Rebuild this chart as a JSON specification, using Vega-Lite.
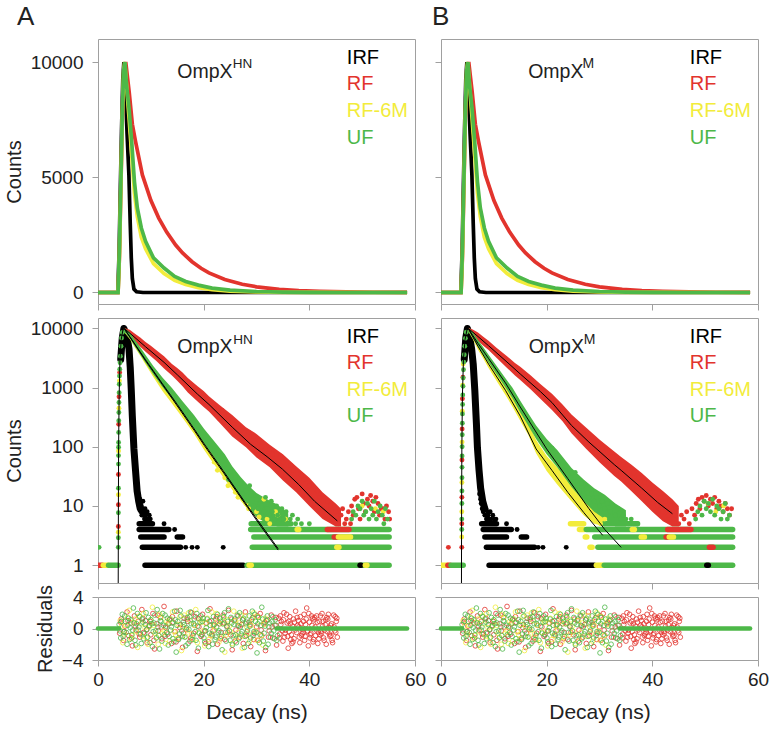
{
"$schema": "https://vega.github.io/schema/vega-lite/v6.json",
"padding": {"left": 3, "top": 3, "right": 2, "bottom": 2},
"config": {
 "font": "Liberation Sans",
 "view": {"stroke": "#a0a0a0", "strokeWidth": 1},
 "axis": {"domain": false, "grid": false, "tickColor": "#a0a0a0", "tickSize": 6, "labelFontSize": 19, "titleFontSize": 20, "labelColor": "#222222", "titleColor": "#222222", "titleFontWeight": "normal", "labelPadding": 9, "titlePadding": 6},
 "text": {"color": "#222222"}
},
"datasets": {
 "top": [
  {"s":"IRF","t":0,"v":0},{"s":"IRF","t":3.75,"v":0},{"s":"IRF","t":4.0,"v":1800},{"s":"IRF","t":4.2,"v":4200},{"s":"IRF","t":4.45,"v":7000},{"s":"IRF","t":4.7,"v":9300},{"s":"IRF","t":4.9,"v":10000},{"s":"IRF","t":5.2,"v":8800},{"s":"IRF","t":5.5,"v":6900},{"s":"IRF","t":5.85,"v":5100},{"s":"IRF","t":6.1,"v":3000},{"s":"IRF","t":6.3,"v":1500},{"s":"IRF","t":6.5,"v":600},{"s":"IRF","t":6.8,"v":150},{"s":"IRF","t":7.3,"v":30},{"s":"IRF","t":8.5,"v":0},{"s":"IRF","t":58.5,"v":0},
  {"s":"RF","t":0,"v":0},{"s":"RF","t":3.8,"v":0},{"s":"RF","t":4.05,"v":1500},{"s":"RF","t":4.3,"v":4200},{"s":"RF","t":4.6,"v":7500},{"s":"RF","t":4.9,"v":9500},{"s":"RF","t":5.25,"v":10000},{"s":"RF","t":5.6,"v":9300},{"s":"RF","t":5.9,"v":8700},{"s":"RF","t":6.5,"v":7300},{"s":"RF","t":7.1,"v":6560},{"s":"RF","t":8.4,"v":5100},{"s":"RF","t":10,"v":4000},{"s":"RF","t":11.5,"v":3230},{"s":"RF","t":13,"v":2620},{"s":"RF","t":14.7,"v":2060},{"s":"RF","t":16,"v":1715},{"s":"RF","t":17.8,"v":1335},{"s":"RF","t":19.5,"v":1050},{"s":"RF","t":21,"v":850},{"s":"RF","t":24,"v":560},{"s":"RF","t":27.3,"v":355},{"s":"RF","t":30,"v":245},{"s":"RF","t":34.3,"v":135},{"s":"RF","t":38,"v":80},{"s":"RF","t":42,"v":45},{"s":"RF","t":47,"v":22},{"s":"RF","t":52,"v":10},{"s":"RF","t":58.5,"v":3},
  {"s":"RF-6M","t":0,"v":0},{"s":"RF-6M","t":3.8,"v":0},{"s":"RF-6M","t":4.05,"v":1600},{"s":"RF-6M","t":4.3,"v":4400},{"s":"RF-6M","t":4.6,"v":7700},{"s":"RF-6M","t":4.85,"v":9600},{"s":"RF-6M","t":5.05,"v":10000},{"s":"RF-6M","t":5.5,"v":8700},{"s":"RF-6M","t":5.87,"v":7600},{"s":"RF-6M","t":6.37,"v":6000},{"s":"RF-6M","t":6.9,"v":4300},{"s":"RF-6M","t":7.44,"v":3300},{"s":"RF-6M","t":8.2,"v":2400},{"s":"RF-6M","t":9.0,"v":1900},{"s":"RF-6M","t":10.5,"v":1250},{"s":"RF-6M","t":12.5,"v":820},{"s":"RF-6M","t":14.5,"v":530},{"s":"RF-6M","t":16.6,"v":350},{"s":"RF-6M","t":19,"v":210},{"s":"RF-6M","t":21.6,"v":120},{"s":"RF-6M","t":25,"v":60},{"s":"RF-6M","t":30,"v":22},{"s":"RF-6M","t":35,"v":7},{"s":"RF-6M","t":40,"v":1},{"s":"RF-6M","t":58.5,"v":0},
  {"s":"UF","t":0,"v":0},{"s":"UF","t":3.8,"v":0},{"s":"UF","t":4.05,"v":1800},{"s":"UF","t":4.3,"v":4500},{"s":"UF","t":4.6,"v":7800},{"s":"UF","t":4.85,"v":9600},{"s":"UF","t":5.1,"v":10000},{"s":"UF","t":5.4,"v":9000},{"s":"UF","t":5.87,"v":8000},{"s":"UF","t":6.37,"v":6565},{"s":"UF","t":6.9,"v":4800},{"s":"UF","t":7.44,"v":3670},{"s":"UF","t":8.2,"v":2800},{"s":"UF","t":9.0,"v":2220},{"s":"UF","t":10.5,"v":1500},{"s":"UF","t":12.5,"v":1060},{"s":"UF","t":14.5,"v":700},{"s":"UF","t":16.6,"v":480},{"s":"UF","t":19,"v":320},{"s":"UF","t":21.6,"v":190},{"s":"UF","t":25,"v":100},{"s":"UF","t":30,"v":42},{"s":"UF","t":35,"v":16},{"s":"UF","t":40,"v":5},{"s":"UF","t":45,"v":0},{"s":"UF","t":58.5,"v":0}
 ],
 "band": [
  {"p":"A","s":"IRF","t":4.3,"v":3000},{"p":"A","s":"IRF","t":4.6,"v":7000},{"p":"A","s":"IRF","t":4.9,"v":10000},{"p":"A","s":"IRF","t":5.3,"v":8000},{"p":"A","s":"IRF","t":5.6,"v":6300},{"p":"A","s":"IRF","t":5.87,"v":4500},{"p":"A","s":"IRF","t":6.1,"v":2200},{"p":"A","s":"IRF","t":6.3,"v":900},{"p":"A","s":"IRF","t":6.49,"v":340},{"p":"A","s":"IRF","t":6.8,"v":92},{"p":"A","s":"IRF","t":7.1,"v":40},{"p":"A","s":"IRF","t":7.4,"v":18},{"p":"A","s":"IRF","t":7.7,"v":12},{"p":"A","s":"IRF","t":8.0,"v":9},
  {"p":"B","s":"IRF","t":4.4,"v":3000},{"p":"B","s":"IRF","t":4.7,"v":7000},{"p":"B","s":"IRF","t":5.0,"v":10000},{"p":"B","s":"IRF","t":5.4,"v":7500},{"p":"B","s":"IRF","t":5.8,"v":4500},{"p":"B","s":"IRF","t":6.1,"v":2500},{"p":"B","s":"IRF","t":6.4,"v":900},{"p":"B","s":"IRF","t":6.7,"v":250},{"p":"B","s":"IRF","t":6.9,"v":95},{"p":"B","s":"IRF","t":7.2,"v":40},{"p":"B","s":"IRF","t":7.5,"v":20},{"p":"B","s":"IRF","t":7.9,"v":12},{"p":"B","s":"IRF","t":8.3,"v":9}
 ],
 "rib": [
  {"p":"A","s":"RF","t":4.9,"v":9300,"hi":10300},{"p":"A","s":"RF","t":6,"v":7400,"hi":9500},{"p":"A","s":"RF","t":7,"v":6000,"hi":8100},{"p":"A","s":"RF","t":8,"v":4900,"hi":7000},{"p":"A","s":"RF","t":9,"v":4050,"hi":5900},{"p":"A","s":"RF","t":10,"v":3400,"hi":5100},{"p":"A","s":"RF","t":11,"v":2850,"hi":4300},{"p":"A","s":"RF","t":12.5,"v":2100,"hi":3400},{"p":"A","s":"RF","t":14,"v":1600,"hi":2500},{"p":"A","s":"RF","t":15,"v":1300,"hi":2150},{"p":"A","s":"RF","t":16,"v":1050,"hi":1800},{"p":"A","s":"RF","t":17,"v":830,"hi":1450},{"p":"A","s":"RF","t":18.8,"v":590,"hi":1060},{"p":"A","s":"RF","t":20,"v":470,"hi":880},{"p":"A","s":"RF","t":21,"v":395,"hi":715},{"p":"A","s":"RF","t":23,"v":255,"hi":510},{"p":"A","s":"RF","t":25.4,"v":150,"hi":345},{"p":"A","s":"RF","t":28,"v":98,"hi":215},{"p":"A","s":"RF","t":30,"v":66,"hi":165},{"p":"A","s":"RF","t":32.5,"v":45,"hi":108},{"p":"A","s":"RF","t":35,"v":27,"hi":75},{"p":"A","s":"RF","t":37.5,"v":17,"hi":47},{"p":"A","s":"RF","t":40,"v":10,"hi":30},{"p":"A","s":"RF","t":42.5,"v":6,"hi":17},{"p":"A","s":"RF","t":45,"v":4.5,"hi":11},{"p":"A","s":"RF","t":46,"v":4.5,"hi":9},
  {"p":"A","s":"RF-6M","t":4.9,"v":8700,"hi":10200},{"p":"A","s":"RF-6M","t":6,"v":6600,"hi":8400},{"p":"A","s":"RF-6M","t":7,"v":4700,"hi":6000},{"p":"A","s":"RF-6M","t":8,"v":3450,"hi":4500},{"p":"A","s":"RF-6M","t":9,"v":2450,"hi":3250},{"p":"A","s":"RF-6M","t":10.5,"v":1500,"hi":2050},{"p":"A","s":"RF-6M","t":12.2,"v":880,"hi":1230},{"p":"A","s":"RF-6M","t":14,"v":540,"hi":780},{"p":"A","s":"RF-6M","t":16,"v":310,"hi":460},{"p":"A","s":"RF-6M","t":18.2,"v":165,"hi":260},{"p":"A","s":"RF-6M","t":20.1,"v":88,"hi":148},{"p":"A","s":"RF-6M","t":22,"v":50,"hi":88},{"p":"A","s":"RF-6M","t":24,"v":28,"hi":52},{"p":"A","s":"RF-6M","t":26,"v":16,"hi":31},{"p":"A","s":"RF-6M","t":28,"v":9.5,"hi":19},{"p":"A","s":"RF-6M","t":30,"v":6.5,"hi":13},{"p":"A","s":"RF-6M","t":32,"v":5,"hi":9},
  {"p":"A","s":"UF","t":4.9,"v":8900,"hi":10300},{"p":"A","s":"UF","t":6,"v":6800,"hi":8600},{"p":"A","s":"UF","t":7,"v":4900,"hi":6350},{"p":"A","s":"UF","t":8,"v":3600,"hi":4800},{"p":"A","s":"UF","t":9,"v":2620,"hi":3560},{"p":"A","s":"UF","t":10.5,"v":1650,"hi":2300},{"p":"A","s":"UF","t":12.2,"v":1020,"hi":1480},{"p":"A","s":"UF","t":14,"v":650,"hi":985},{"p":"A","s":"UF","t":16,"v":375,"hi":590},{"p":"A","s":"UF","t":18.2,"v":200,"hi":340},{"p":"A","s":"UF","t":20.1,"v":113,"hi":200},{"p":"A","s":"UF","t":22,"v":66,"hi":124},{"p":"A","s":"UF","t":24,"v":37,"hi":75},{"p":"A","s":"UF","t":25.4,"v":22,"hi":47},{"p":"A","s":"UF","t":27,"v":13.5,"hi":31},{"p":"A","s":"UF","t":28.5,"v":9,"hi":22},{"p":"A","s":"UF","t":30,"v":6.6,"hi":16.6},{"p":"A","s":"UF","t":32,"v":5,"hi":13},{"p":"A","s":"UF","t":34,"v":4.5,"hi":10.5},{"p":"A","s":"UF","t":36,"v":4.5,"hi":7.5},
  {"p":"B","s":"RF","t":5.2,"v":8900,"hi":10300},{"p":"B","s":"RF","t":6,"v":7700,"hi":9600},{"p":"B","s":"RF","t":7,"v":6200,"hi":8500},{"p":"B","s":"RF","t":8,"v":5100,"hi":7200},{"p":"B","s":"RF","t":9,"v":4300,"hi":6200},{"p":"B","s":"RF","t":10.5,"v":3200,"hi":4700},{"p":"B","s":"RF","t":12.5,"v":2150,"hi":3400},{"p":"B","s":"RF","t":14,"v":1600,"hi":2600},{"p":"B","s":"RF","t":15,"v":1350,"hi":2250},{"p":"B","s":"RF","t":17,"v":930,"hi":1600},{"p":"B","s":"RF","t":18.8,"v":650,"hi":1150},{"p":"B","s":"RF","t":21,"v":420,"hi":790},{"p":"B","s":"RF","t":23,"v":270,"hi":520},{"p":"B","s":"RF","t":24.7,"v":170,"hi":350},{"p":"B","s":"RF","t":27.5,"v":92,"hi":210},{"p":"B","s":"RF","t":30.1,"v":54,"hi":130},{"p":"B","s":"RF","t":32.8,"v":32,"hi":83},{"p":"B","s":"RF","t":34.1,"v":26,"hi":67},{"p":"B","s":"RF","t":36,"v":18,"hi":50},{"p":"B","s":"RF","t":38,"v":12,"hi":36},{"p":"B","s":"RF","t":40,"v":8,"hi":25},{"p":"B","s":"RF","t":42,"v":5.5,"hi":18},{"p":"B","s":"RF","t":43.8,"v":4.5,"hi":13},{"p":"B","s":"RF","t":45,"v":4.5,"hi":10},
  {"p":"B","s":"RF-6M","t":5.2,"v":8800,"hi":10200},{"p":"B","s":"RF-6M","t":6,"v":6600,"hi":8300},{"p":"B","s":"RF-6M","t":7,"v":4350,"hi":5750},{"p":"B","s":"RF-6M","t":8,"v":3100,"hi":4200},{"p":"B","s":"RF-6M","t":9,"v":2150,"hi":2900},{"p":"B","s":"RF-6M","t":10.5,"v":1300,"hi":1800},{"p":"B","s":"RF-6M","t":12.2,"v":750,"hi":1080},{"p":"B","s":"RF-6M","t":13.5,"v":480,"hi":720},{"p":"B","s":"RF-6M","t":15,"v":275,"hi":420},{"p":"B","s":"RF-6M","t":16.5,"v":160,"hi":255},{"p":"B","s":"RF-6M","t":18,"v":78,"hi":130},{"p":"B","s":"RF-6M","t":20,"v":39,"hi":70},{"p":"B","s":"RF-6M","t":22,"v":23,"hi":45},{"p":"B","s":"RF-6M","t":24.7,"v":12,"hi":27},{"p":"B","s":"RF-6M","t":27,"v":7,"hi":17},{"p":"B","s":"RF-6M","t":29,"v":5,"hi":12.5},{"p":"B","s":"RF-6M","t":31,"v":4.5,"hi":8.5},
  {"p":"B","s":"UF","t":5.2,"v":8900,"hi":10300},{"p":"B","s":"UF","t":6,"v":6900,"hi":8700},{"p":"B","s":"UF","t":7,"v":4900,"hi":6350},{"p":"B","s":"UF","t":8,"v":3600,"hi":4800},{"p":"B","s":"UF","t":9,"v":2650,"hi":3600},{"p":"B","s":"UF","t":10.5,"v":1700,"hi":2350},{"p":"B","s":"UF","t":12.2,"v":1000,"hi":1440},{"p":"B","s":"UF","t":13.5,"v":670,"hi":1000},{"p":"B","s":"UF","t":15,"v":380,"hi":600},{"p":"B","s":"UF","t":16.5,"v":230,"hi":370},{"p":"B","s":"UF","t":18,"v":135,"hi":230},{"p":"B","s":"UF","t":20,"v":75,"hi":135},{"p":"B","s":"UF","t":22,"v":45,"hi":88},{"p":"B","s":"UF","t":24.7,"v":21,"hi":44},{"p":"B","s":"UF","t":27,"v":12,"hi":28},{"p":"B","s":"UF","t":29,"v":8,"hi":20},{"p":"B","s":"UF","t":31,"v":6,"hi":15.5},{"p":"B","s":"UF","t":33,"v":4.5,"hi":11},{"p":"B","s":"UF","t":35,"v":4.5,"hi":8.5}
 ],
 "fit": [
  {"p":"A","s":"RF","t":3.82,"v":0.3},{"p":"A","s":"RF","t":3.86,"v":10},{"p":"A","s":"RF","t":3.9,"v":100},{"p":"A","s":"RF","t":4.0,"v":700},{"p":"A","s":"RF","t":4.16,"v":3000},{"p":"A","s":"RF","t":4.4,"v":6500},{"p":"A","s":"RF","t":4.75,"v":9800},{"p":"A","s":"RF","t":4.95,"v":10000},{"p":"A","s":"RF","t":7,"v":7000},{"p":"A","s":"RF","t":9,"v":4900},{"p":"A","s":"RF","t":12.5,"v":2670},{"p":"A","s":"RF","t":15,"v":1650},{"p":"A","s":"RF","t":18.8,"v":780},{"p":"A","s":"RF","t":21,"v":520},{"p":"A","s":"RF","t":25.4,"v":215},{"p":"A","s":"RF","t":28.9,"v":110},{"p":"A","s":"RF","t":32,"v":68},{"p":"A","s":"RF","t":34.9,"v":42},{"p":"A","s":"RF","t":38,"v":23},{"p":"A","s":"RF","t":41,"v":12},{"p":"A","s":"RF","t":45.3,"v":5.6},
  {"p":"A","s":"RF-6M","t":4.95,"v":10000},{"p":"A","s":"RF-6M","t":7,"v":5300},{"p":"A","s":"RF-6M","t":9,"v":2850},{"p":"A","s":"RF-6M","t":12.2,"v":1120},{"p":"A","s":"RF-6M","t":15,"v":490},{"p":"A","s":"RF-6M","t":18.2,"v":190},{"p":"A","s":"RF-6M","t":20.1,"v":106},{"p":"A","s":"RF-6M","t":24,"v":34},{"p":"A","s":"RF-6M","t":28.3,"v":9.5},{"p":"A","s":"RF-6M","t":31,"v":4.3},{"p":"A","s":"RF-6M","t":34.1,"v":1.8},
  {"p":"A","s":"UF","t":4.95,"v":10000},{"p":"A","s":"UF","t":7,"v":5400},{"p":"A","s":"UF","t":9,"v":2950},{"p":"A","s":"UF","t":12.2,"v":1160},{"p":"A","s":"UF","t":15,"v":520},{"p":"A","s":"UF","t":18.2,"v":200},{"p":"A","s":"UF","t":20.1,"v":112},{"p":"A","s":"UF","t":24,"v":36},{"p":"A","s":"UF","t":28.3,"v":10},{"p":"A","s":"UF","t":31,"v":4.6},{"p":"A","s":"UF","t":34.1,"v":1.9},
  {"p":"B","s":"RF","t":3.87,"v":0.3},{"p":"B","s":"RF","t":3.9,"v":10},{"p":"B","s":"RF","t":3.95,"v":100},{"p":"B","s":"RF","t":4.05,"v":700},{"p":"B","s":"RF","t":4.25,"v":3000},{"p":"B","s":"RF","t":4.55,"v":6500},{"p":"B","s":"RF","t":4.95,"v":9800},{"p":"B","s":"RF","t":5.15,"v":10000},{"p":"B","s":"RF","t":7,"v":7300},{"p":"B","s":"RF","t":9,"v":5100},{"p":"B","s":"RF","t":12.5,"v":2700},{"p":"B","s":"RF","t":15,"v":1700},{"p":"B","s":"RF","t":18.8,"v":860},{"p":"B","s":"RF","t":21,"v":560},{"p":"B","s":"RF","t":24.7,"v":230},{"p":"B","s":"RF","t":28,"v":120},{"p":"B","s":"RF","t":30.1,"v":82},{"p":"B","s":"RF","t":32.8,"v":50},{"p":"B","s":"RF","t":34.1,"v":40},{"p":"B","s":"RF","t":38,"v":20},{"p":"B","s":"RF","t":41,"v":11.5},{"p":"B","s":"RF","t":43.8,"v":7.4},
  {"p":"B","s":"RF-6M","t":5.15,"v":10000},{"p":"B","s":"RF-6M","t":7,"v":5000},{"p":"B","s":"RF-6M","t":9,"v":2500},{"p":"B","s":"RF-6M","t":12.2,"v":900},{"p":"B","s":"RF-6M","t":15,"v":330},{"p":"B","s":"RF-6M","t":18,"v":92},{"p":"B","s":"RF-6M","t":21,"v":40},{"p":"B","s":"RF-6M","t":24,"v":17},{"p":"B","s":"RF-6M","t":27,"v":7.8},{"p":"B","s":"RF-6M","t":30.6,"v":3.2},
  {"p":"B","s":"UF","t":5.15,"v":10000},{"p":"B","s":"UF","t":7,"v":5600},{"p":"B","s":"UF","t":9,"v":3100},{"p":"B","s":"UF","t":12.2,"v":1200},{"p":"B","s":"UF","t":15,"v":470},{"p":"B","s":"UF","t":20,"v":92},{"p":"B","s":"UF","t":24,"v":29},{"p":"B","s":"UF","t":28,"v":9},{"p":"B","s":"UF","t":31,"v":4},{"p":"B","s":"UF","t":34.1,"v":2.0}
 ],
 "pts": [
  {"p":"A","s":"IRF","t":7.5,"v":16},{"p":"A","s":"IRF","t":7.7,"v":14},{"p":"A","s":"IRF","t":7.8,"v":10},{"p":"A","s":"IRF","t":7.9,"v":13},{"p":"A","s":"IRF","t":8.0,"v":11},{"p":"A","s":"IRF","t":8.1,"v":8},{"p":"A","s":"IRF","t":8.2,"v":10},{"p":"A","s":"IRF","t":8.3,"v":7},{"p":"A","s":"IRF","t":8.4,"v":9},{"p":"A","s":"IRF","t":8.5,"v":12},{"p":"A","s":"IRF","t":8.6,"v":7},{"p":"A","s":"IRF","t":8.7,"v":8},{"p":"A","s":"IRF","t":8.8,"v":6},{"p":"A","s":"IRF","t":8.9,"v":9},{"p":"A","s":"IRF","t":9.0,"v":7},{"p":"A","s":"IRF","t":9.2,"v":6},{"p":"A","s":"IRF","t":9.3,"v":8},{"p":"A","s":"IRF","t":9.5,"v":6},{"p":"A","s":"IRF","t":9.7,"v":7},{"p":"A","s":"IRF","t":9.9,"v":6},{"p":"A","s":"IRF","t":12.5,"v":5},{"p":"A","s":"IRF","t":14.5,"v":4},{"p":"A","s":"IRF","t":16.6,"v":2},{"p":"A","s":"IRF","t":17.8,"v":2},{"p":"A","s":"IRF","t":18.8,"v":2},{"p":"A","s":"IRF","t":23.7,"v":2},
  {"p":"A","s":"RF","t":3.85,"v":4.5},{"p":"A","s":"RF","t":3.86,"v":10.5},{"p":"A","s":"RF","t":3.87,"v":34},{"p":"A","s":"RF","t":3.92,"v":240},{"p":"A","s":"RF","t":3.98,"v":700},{"p":"A","s":"RF","t":4.1,"v":1800},
  {"p":"A","s":"RF","t":22,"v":440},{"p":"A","s":"RF","t":22.5,"v":380},{"p":"A","s":"RF","t":23,"v":300},{"p":"A","s":"RF","t":23.5,"v":410},{"p":"A","s":"RF","t":24,"v":260},{"p":"A","s":"RF","t":24.5,"v":330},{"p":"A","s":"RF","t":25,"v":200},{"p":"A","s":"RF","t":25.5,"v":280},{"p":"A","s":"RF","t":26,"v":170},{"p":"A","s":"RF","t":26.5,"v":240},{"p":"A","s":"RF","t":27,"v":190},{"p":"A","s":"RF","t":27.5,"v":140},{"p":"A","s":"RF","t":28,"v":120},{"p":"A","s":"RF","t":28.5,"v":175},{"p":"A","s":"RF","t":29,"v":110},{"p":"A","s":"RF","t":29.5,"v":150},{"p":"A","s":"RF","t":30,"v":85},{"p":"A","s":"RF","t":30.5,"v":125},{"p":"A","s":"RF","t":31,"v":100},{"p":"A","s":"RF","t":31.5,"v":70},{"p":"A","s":"RF","t":32,"v":60},{"p":"A","s":"RF","t":32.5,"v":90},{"p":"A","s":"RF","t":33,"v":75},{"p":"A","s":"RF","t":33.5,"v":52},{"p":"A","s":"RF","t":34,"v":45},{"p":"A","s":"RF","t":34.5,"v":70},{"p":"A","s":"RF","t":35,"v":55},{"p":"A","s":"RF","t":35.5,"v":35},{"p":"A","s":"RF","t":36,"v":30},{"p":"A","s":"RF","t":36.5,"v":48},{"p":"A","s":"RF","t":37,"v":40},{"p":"A","s":"RF","t":37.5,"v":25},{"p":"A","s":"RF","t":38,"v":20},{"p":"A","s":"RF","t":38.5,"v":33},{"p":"A","s":"RF","t":39,"v":28},{"p":"A","s":"RF","t":39.5,"v":15},{"p":"A","s":"RF","t":40,"v":22},{"p":"A","s":"RF","t":40.5,"v":13},{"p":"A","s":"RF","t":41,"v":11},{"p":"A","s":"RF","t":41.5,"v":18},{"p":"A","s":"RF","t":42,"v":14},{"p":"A","s":"RF","t":42.5,"v":9},{"p":"A","s":"RF","t":43,"v":7},{"p":"A","s":"RF","t":43.5,"v":12},{"p":"A","s":"RF","t":44,"v":10},{"p":"A","s":"RF","t":44.5,"v":6},{"p":"A","s":"RF","t":45,"v":8},{"p":"A","s":"RF","t":45.5,"v":5},{"p":"A","s":"RF","t":46,"v":7},{"p":"A","s":"RF","t":46.3,"v":9},{"p":"A","s":"RF","t":46.7,"v":5},{"p":"A","s":"RF","t":47,"v":6},{"p":"A","s":"RF","t":47.4,"v":8},{"p":"A","s":"RF","t":47.8,"v":5},{"p":"A","s":"RF","t":48,"v":10},{"p":"A","s":"RF","t":48.3,"v":7},{"p":"A","s":"RF","t":48.6,"v":13},{"p":"A","s":"RF","t":49,"v":14},{"p":"A","s":"RF","t":49.3,"v":9},{"p":"A","s":"RF","t":49.6,"v":6},{"p":"A","s":"RF","t":50,"v":16},{"p":"A","s":"RF","t":50.3,"v":11},{"p":"A","s":"RF","t":50.6,"v":8},{"p":"A","s":"RF","t":51,"v":13},{"p":"A","s":"RF","t":51.3,"v":10},{"p":"A","s":"RF","t":51.6,"v":15},{"p":"A","s":"RF","t":52,"v":12},{"p":"A","s":"RF","t":52.3,"v":8},{"p":"A","s":"RF","t":52.6,"v":14},{"p":"A","s":"RF","t":53,"v":11},{"p":"A","s":"RF","t":53.3,"v":7},{"p":"A","s":"RF","t":53.6,"v":9},{"p":"A","s":"RF","t":54,"v":9},{"p":"A","s":"RF","t":54.3,"v":6},{"p":"A","s":"RF","t":54.6,"v":10},{"p":"A","s":"RF","t":55,"v":8},{"p":"A","s":"RF","t":55.2,"v":6},
  {"p":"A","s":"RF-6M","t":3.85,"v":3.6},{"p":"A","s":"RF-6M","t":3.87,"v":15.5},{"p":"A","s":"RF-6M","t":3.89,"v":85},{"p":"A","s":"RF-6M","t":3.96,"v":450},{"p":"A","s":"RF-6M","t":4.05,"v":1300},
  {"p":"A","s":"RF-6M","t":22,"v":55},{"p":"A","s":"RF-6M","t":22.6,"v":40},{"p":"A","s":"RF-6M","t":24,"v":30},{"p":"A","s":"RF-6M","t":24.6,"v":22},{"p":"A","s":"RF-6M","t":26,"v":17},{"p":"A","s":"RF-6M","t":26.5,"v":14},{"p":"A","s":"RF-6M","t":28,"v":11},{"p":"A","s":"RF-6M","t":28.5,"v":9},{"p":"A","s":"RF-6M","t":30,"v":8},{"p":"A","s":"RF-6M","t":30.5,"v":6.5},{"p":"A","s":"RF-6M","t":31.4,"v":13},{"p":"A","s":"RF-6M","t":32,"v":6},{"p":"A","s":"RF-6M","t":32.5,"v":5},{"p":"A","s":"RF-6M","t":33.6,"v":8},{"p":"A","s":"RF-6M","t":34,"v":7},{"p":"A","s":"RF-6M","t":35.5,"v":6},{"p":"A","s":"RF-6M","t":50,"v":10},{"p":"A","s":"RF-6M","t":52.5,"v":9},{"p":"A","s":"RF-6M","t":54,"v":8},
  {"p":"A","s":"UF","t":0.2,"v":2},{"p":"A","s":"UF","t":3.84,"v":2},{"p":"A","s":"UF","t":3.85,"v":2.9},{"p":"A","s":"UF","t":3.86,"v":7.7},{"p":"A","s":"UF","t":3.87,"v":20},{"p":"A","s":"UF","t":3.88,"v":51},{"p":"A","s":"UF","t":3.88,"v":71},{"p":"A","s":"UF","t":3.89,"v":98},{"p":"A","s":"UF","t":3.9,"v":118},{"p":"A","s":"UF","t":3.91,"v":175},{"p":"A","s":"UF","t":3.93,"v":275},{"p":"A","s":"UF","t":3.95,"v":380},{"p":"A","s":"UF","t":3.97,"v":560},{"p":"A","s":"UF","t":4.0,"v":820},{"p":"A","s":"UF","t":4.03,"v":1140},{"p":"A","s":"UF","t":4.07,"v":1570},{"p":"A","s":"UF","t":4.12,"v":2040},{"p":"A","s":"UF","t":4.18,"v":2630},{"p":"A","s":"UF","t":4.25,"v":3400},{"p":"A","s":"UF","t":4.35,"v":5000},{"p":"A","s":"UF","t":4.45,"v":6880},{"p":"A","s":"UF","t":4.6,"v":8570},
  {"p":"A","s":"UF","t":22,"v":85},{"p":"A","s":"UF","t":22.5,"v":60},{"p":"A","s":"UF","t":23,"v":70},{"p":"A","s":"UF","t":23.5,"v":45},{"p":"A","s":"UF","t":24,"v":50},{"p":"A","s":"UF","t":24.3,"v":35},{"p":"A","s":"UF","t":24.7,"v":28},{"p":"A","s":"UF","t":25,"v":38},{"p":"A","s":"UF","t":25.5,"v":25},{"p":"A","s":"UF","t":26,"v":30},{"p":"A","s":"UF","t":26.5,"v":20},{"p":"A","s":"UF","t":27,"v":24},{"p":"A","s":"UF","t":27.3,"v":16},{"p":"A","s":"UF","t":28,"v":18},{"p":"A","s":"UF","t":28.3,"v":12},{"p":"A","s":"UF","t":28.7,"v":22},{"p":"A","s":"UF","t":29,"v":15},{"p":"A","s":"UF","t":29.5,"v":10},{"p":"A","s":"UF","t":30,"v":13},{"p":"A","s":"UF","t":30.3,"v":9},{"p":"A","s":"UF","t":30.7,"v":11},{"p":"A","s":"UF","t":31,"v":10},{"p":"A","s":"UF","t":31.4,"v":8},{"p":"A","s":"UF","t":31.7,"v":14},{"p":"A","s":"UF","t":32,"v":9},{"p":"A","s":"UF","t":32.4,"v":7},{"p":"A","s":"UF","t":32.8,"v":12},{"p":"A","s":"UF","t":33,"v":8},{"p":"A","s":"UF","t":33.5,"v":6},{"p":"A","s":"UF","t":33.8,"v":10},{"p":"A","s":"UF","t":34,"v":7},{"p":"A","s":"UF","t":34.5,"v":6},{"p":"A","s":"UF","t":34.8,"v":9},{"p":"A","s":"UF","t":35.2,"v":6},{"p":"A","s":"UF","t":35.6,"v":8},{"p":"A","s":"UF","t":36,"v":5},{"p":"A","s":"UF","t":36.4,"v":6},{"p":"A","s":"UF","t":36.8,"v":7},{"p":"A","s":"UF","t":37.4,"v":5},{"p":"A","s":"UF","t":37.8,"v":6},{"p":"A","s":"UF","t":38.5,"v":5},{"p":"A","s":"UF","t":40,"v":5},{"p":"A","s":"UF","t":48,"v":6},{"p":"A","s":"UF","t":48.3,"v":8},{"p":"A","s":"UF","t":48.8,"v":7},{"p":"A","s":"UF","t":49.2,"v":10},{"p":"A","s":"UF","t":49.6,"v":9},{"p":"A","s":"UF","t":50,"v":12},{"p":"A","s":"UF","t":50.3,"v":7},{"p":"A","s":"UF","t":50.7,"v":8},{"p":"A","s":"UF","t":51,"v":11},{"p":"A","s":"UF","t":51.3,"v":6},{"p":"A","s":"UF","t":51.7,"v":9},{"p":"A","s":"UF","t":52,"v":7},{"p":"A","s":"UF","t":52.3,"v":12},{"p":"A","s":"UF","t":52.7,"v":6},{"p":"A","s":"UF","t":53,"v":8},{"p":"A","s":"UF","t":53.4,"v":10},{"p":"A","s":"UF","t":53.8,"v":7},{"p":"A","s":"UF","t":54.1,"v":5},{"p":"A","s":"UF","t":54.4,"v":9},{"p":"A","s":"UF","t":54.8,"v":6},
  {"p":"B","s":"IRF","t":7.3,"v":16},{"p":"B","s":"IRF","t":7.5,"v":13},{"p":"B","s":"IRF","t":7.6,"v":11},{"p":"B","s":"IRF","t":7.8,"v":9},{"p":"B","s":"IRF","t":7.9,"v":12},{"p":"B","s":"IRF","t":8.0,"v":8},{"p":"B","s":"IRF","t":8.2,"v":10},{"p":"B","s":"IRF","t":8.3,"v":7},{"p":"B","s":"IRF","t":8.5,"v":9},{"p":"B","s":"IRF","t":8.6,"v":6},{"p":"B","s":"IRF","t":8.8,"v":8},{"p":"B","s":"IRF","t":8.9,"v":7},{"p":"B","s":"IRF","t":9.1,"v":6},{"p":"B","s":"IRF","t":9.3,"v":8},{"p":"B","s":"IRF","t":9.5,"v":6},{"p":"B","s":"IRF","t":9.8,"v":7},{"p":"B","s":"IRF","t":10.1,"v":6},{"p":"B","s":"IRF","t":10.4,"v":6},{"p":"B","s":"IRF","t":12.4,"v":5},{"p":"B","s":"IRF","t":14.4,"v":4},{"p":"B","s":"IRF","t":18.4,"v":2},{"p":"B","s":"IRF","t":19.3,"v":2},{"p":"B","s":"IRF","t":23.7,"v":2},
  {"p":"B","s":"RF","t":1.4,"v":2},{"p":"B","s":"RF","t":3.93,"v":2},{"p":"B","s":"RF","t":3.94,"v":5},{"p":"B","s":"RF","t":3.95,"v":14},{"p":"B","s":"RF","t":3.97,"v":60},{"p":"B","s":"RF","t":4.0,"v":200},{"p":"B","s":"RF","t":4.05,"v":650},{"p":"B","s":"RF","t":4.15,"v":1500},
  {"p":"B","s":"RF","t":21,"v":600},{"p":"B","s":"RF","t":21.5,"v":520},{"p":"B","s":"RF","t":22,"v":470},{"p":"B","s":"RF","t":22.5,"v":400},{"p":"B","s":"RF","t":23,"v":390},{"p":"B","s":"RF","t":23.5,"v":300},{"p":"B","s":"RF","t":24,"v":310},{"p":"B","s":"RF","t":24.5,"v":230},{"p":"B","s":"RF","t":25,"v":240},{"p":"B","s":"RF","t":25.5,"v":180},{"p":"B","s":"RF","t":26,"v":200},{"p":"B","s":"RF","t":26.5,"v":150},{"p":"B","s":"RF","t":27,"v":160},{"p":"B","s":"RF","t":27.5,"v":120},{"p":"B","s":"RF","t":28,"v":130},{"p":"B","s":"RF","t":28.5,"v":95},{"p":"B","s":"RF","t":29,"v":110},{"p":"B","s":"RF","t":29.5,"v":80},{"p":"B","s":"RF","t":30,"v":70},{"p":"B","s":"RF","t":30.5,"v":95},{"p":"B","s":"RF","t":31,"v":60},{"p":"B","s":"RF","t":31.5,"v":80},{"p":"B","s":"RF","t":32,"v":50},{"p":"B","s":"RF","t":32.5,"v":68},{"p":"B","s":"RF","t":33,"v":45},{"p":"B","s":"RF","t":33.5,"v":58},{"p":"B","s":"RF","t":34,"v":35},{"p":"B","s":"RF","t":34.5,"v":50},{"p":"B","s":"RF","t":35,"v":30},{"p":"B","s":"RF","t":35.5,"v":42},{"p":"B","s":"RF","t":36,"v":25},{"p":"B","s":"RF","t":36.5,"v":36},{"p":"B","s":"RF","t":37,"v":20},{"p":"B","s":"RF","t":37.5,"v":30},{"p":"B","s":"RF","t":38,"v":17},{"p":"B","s":"RF","t":38.5,"v":25},{"p":"B","s":"RF","t":39,"v":14},{"p":"B","s":"RF","t":39.5,"v":20},{"p":"B","s":"RF","t":40,"v":11},{"p":"B","s":"RF","t":40.5,"v":17},{"p":"B","s":"RF","t":41,"v":10},{"p":"B","s":"RF","t":41.5,"v":14},{"p":"B","s":"RF","t":42,"v":8},{"p":"B","s":"RF","t":42.5,"v":12},{"p":"B","s":"RF","t":43,"v":7},{"p":"B","s":"RF","t":43.5,"v":10},{"p":"B","s":"RF","t":44,"v":6},{"p":"B","s":"RF","t":44.5,"v":9},{"p":"B","s":"RF","t":45,"v":5},{"p":"B","s":"RF","t":45.5,"v":7},{"p":"B","s":"RF","t":46,"v":6},{"p":"B","s":"RF","t":46.5,"v":8},{"p":"B","s":"RF","t":47,"v":5},{"p":"B","s":"RF","t":47.5,"v":9},{"p":"B","s":"RF","t":48,"v":7},{"p":"B","s":"RF","t":48.3,"v":11},{"p":"B","s":"RF","t":48.7,"v":13},{"p":"B","s":"RF","t":49,"v":9},{"p":"B","s":"RF","t":49.4,"v":14},{"p":"B","s":"RF","t":49.8,"v":12},{"p":"B","s":"RF","t":50.2,"v":15},{"p":"B","s":"RF","t":50.6,"v":10},{"p":"B","s":"RF","t":51,"v":13},{"p":"B","s":"RF","t":51.4,"v":11},{"p":"B","s":"RF","t":51.8,"v":14},{"p":"B","s":"RF","t":52.2,"v":9},{"p":"B","s":"RF","t":52.6,"v":12},{"p":"B","s":"RF","t":53,"v":10},{"p":"B","s":"RF","t":53.4,"v":8},{"p":"B","s":"RF","t":53.8,"v":11},{"p":"B","s":"RF","t":54.2,"v":9},{"p":"B","s":"RF","t":54.6,"v":7},{"p":"B","s":"RF","t":55,"v":9},
  {"p":"B","s":"RF-6M","t":3.93,"v":3},{"p":"B","s":"RF-6M","t":3.94,"v":8},{"p":"B","s":"RF-6M","t":3.96,"v":25},{"p":"B","s":"RF-6M","t":3.99,"v":120},{"p":"B","s":"RF-6M","t":4.03,"v":400},{"p":"B","s":"RF-6M","t":4.1,"v":1100},{"p":"B","s":"RF-6M","t":4.2,"v":2500},
  {"p":"B","s":"RF-6M","t":20,"v":55},{"p":"B","s":"RF-6M","t":20.8,"v":45},{"p":"B","s":"RF-6M","t":21.6,"v":38},{"p":"B","s":"RF-6M","t":22.3,"v":30},{"p":"B","s":"RF-6M","t":23,"v":26},{"p":"B","s":"RF-6M","t":23.7,"v":21},{"p":"B","s":"RF-6M","t":24.4,"v":17},{"p":"B","s":"RF-6M","t":25,"v":14},{"p":"B","s":"RF-6M","t":25.8,"v":12},{"p":"B","s":"RF-6M","t":26.5,"v":10},{"p":"B","s":"RF-6M","t":27.2,"v":8.5},{"p":"B","s":"RF-6M","t":28,"v":7},{"p":"B","s":"RF-6M","t":28.7,"v":6},{"p":"B","s":"RF-6M","t":29.5,"v":5.5},{"p":"B","s":"RF-6M","t":30.2,"v":5},{"p":"B","s":"RF-6M","t":31,"v":6},{"p":"B","s":"RF-6M","t":50.5,"v":11},{"p":"B","s":"RF-6M","t":52,"v":8},{"p":"B","s":"RF-6M","t":53.5,"v":10},
  {"p":"B","s":"UF","t":3.93,"v":4},{"p":"B","s":"UF","t":3.94,"v":6},{"p":"B","s":"UF","t":3.95,"v":11},{"p":"B","s":"UF","t":3.96,"v":18},{"p":"B","s":"UF","t":3.97,"v":30},{"p":"B","s":"UF","t":3.98,"v":45},{"p":"B","s":"UF","t":3.99,"v":70},{"p":"B","s":"UF","t":4.0,"v":100},{"p":"B","s":"UF","t":4.02,"v":160},{"p":"B","s":"UF","t":4.04,"v":250},{"p":"B","s":"UF","t":4.06,"v":360},{"p":"B","s":"UF","t":4.09,"v":520},{"p":"B","s":"UF","t":4.12,"v":750},{"p":"B","s":"UF","t":4.16,"v":1050},{"p":"B","s":"UF","t":4.2,"v":1450},{"p":"B","s":"UF","t":4.25,"v":2000},{"p":"B","s":"UF","t":4.32,"v":2700},{"p":"B","s":"UF","t":4.4,"v":3600},{"p":"B","s":"UF","t":4.5,"v":5000},{"p":"B","s":"UF","t":4.62,"v":6800},{"p":"B","s":"UF","t":4.78,"v":8600},
  {"p":"B","s":"UF","t":21,"v":95},{"p":"B","s":"UF","t":21.5,"v":80},{"p":"B","s":"UF","t":22,"v":70},{"p":"B","s":"UF","t":22.5,"v":58},{"p":"B","s":"UF","t":23,"v":48},{"p":"B","s":"UF","t":23.5,"v":40},{"p":"B","s":"UF","t":24,"v":34},{"p":"B","s":"UF","t":24.5,"v":30},{"p":"B","s":"UF","t":25,"v":26},{"p":"B","s":"UF","t":25.4,"v":37},{"p":"B","s":"UF","t":25.8,"v":22},{"p":"B","s":"UF","t":26.2,"v":18},{"p":"B","s":"UF","t":26.6,"v":24},{"p":"B","s":"UF","t":27,"v":16},{"p":"B","s":"UF","t":27.5,"v":20},{"p":"B","s":"UF","t":28,"v":14},{"p":"B","s":"UF","t":28.5,"v":16},{"p":"B","s":"UF","t":29,"v":12},{"p":"B","s":"UF","t":29.5,"v":14},{"p":"B","s":"UF","t":30,"v":10},{"p":"B","s":"UF","t":30.5,"v":12},{"p":"B","s":"UF","t":31,"v":9},{"p":"B","s":"UF","t":31.5,"v":11},{"p":"B","s":"UF","t":32,"v":8},{"p":"B","s":"UF","t":32.5,"v":10},{"p":"B","s":"UF","t":33,"v":7},{"p":"B","s":"UF","t":33.5,"v":9},{"p":"B","s":"UF","t":34,"v":6},{"p":"B","s":"UF","t":34.5,"v":7},{"p":"B","s":"UF","t":35,"v":6},{"p":"B","s":"UF","t":35.5,"v":5},{"p":"B","s":"UF","t":36,"v":6},{"p":"B","s":"UF","t":36.5,"v":5},{"p":"B","s":"UF","t":37.2,"v":5},{"p":"B","s":"UF","t":48.2,"v":6},{"p":"B","s":"UF","t":48.6,"v":8},{"p":"B","s":"UF","t":49,"v":10},{"p":"B","s":"UF","t":49.4,"v":7},{"p":"B","s":"UF","t":49.8,"v":12},{"p":"B","s":"UF","t":50.2,"v":9},{"p":"B","s":"UF","t":50.6,"v":11},{"p":"B","s":"UF","t":51,"v":8},{"p":"B","s":"UF","t":51.4,"v":13},{"p":"B","s":"UF","t":51.8,"v":7},{"p":"B","s":"UF","t":52.2,"v":10},{"p":"B","s":"UF","t":52.6,"v":9},{"p":"B","s":"UF","t":53,"v":6},{"p":"B","s":"UF","t":53.4,"v":8},{"p":"B","s":"UF","t":53.8,"v":11},{"p":"B","s":"UF","t":54.2,"v":6},{"p":"B","s":"UF","t":54.6,"v":7}
 ],
 "rows": [
  {"p":"A","s":"IRF","v":1,"t":8.9,"b":27.5},{"p":"A","s":"IRF","v":2,"t":8.4,"b":15.6},{"p":"A","s":"IRF","v":3,"t":8.1,"b":12.5},{"p":"A","s":"IRF","v":3,"t":15.0,"b":16.0},{"p":"A","s":"IRF","v":4,"t":7.8,"b":13.4},{"p":"A","s":"IRF","v":5,"t":7.8,"b":10.3},
  {"p":"A","s":"RF","v":1,"t":0,"b":0.8},{"p":"A","s":"RF-6M","v":1,"t":1.0,"b":1.8},
  {"p":"A","s":"UF","v":1,"t":2.0,"b":3.8},{"p":"A","s":"UF","v":1,"t":28.2,"b":55.1},{"p":"A","s":"UF","v":2,"t":29.2,"b":55.1},{"p":"A","s":"UF","v":3,"t":29.5,"b":55.1},{"p":"A","s":"UF","v":4,"t":28.9,"b":55.1},{"p":"A","s":"UF","v":5,"t":29.0,"b":36.5},
  {"p":"A","s":"RF","v":4,"t":43.4,"b":47.5},{"p":"A","s":"RF","v":3,"t":44.7,"b":45.3},{"p":"A","s":"RF-6M","v":3,"t":45.5,"b":47.8},{"p":"A","s":"RF-6M","v":2,"t":45.2,"b":45.6},{"p":"A","s":"RF-6M","v":4,"t":37.7,"b":38.0},{"p":"A","s":"RF-6M","v":1,"t":28.6,"b":29.0},{"p":"A","s":"IRF","v":1,"t":49.6,"b":49.8},{"p":"A","s":"RF-6M","v":1,"t":50.6,"b":50.9},
  {"p":"B","s":"IRF","v":1,"t":9.1,"b":29.0},{"p":"B","s":"IRF","v":2,"t":8.6,"b":17.7},{"p":"B","s":"IRF","v":3,"t":8.3,"b":12.4},{"p":"B","s":"IRF","v":3,"t":15.2,"b":16.2},{"p":"B","s":"IRF","v":4,"t":8.0,"b":13.3},{"p":"B","s":"IRF","v":5,"t":7.7,"b":10.5},
  {"p":"B","s":"RF-6M","v":1,"t":0,"b":1.2},{"p":"B","s":"RF-6M","v":1,"t":29.4,"b":30.6},{"p":"B","s":"RF-6M","v":2,"t":28.2,"b":28.6},{"p":"B","s":"RF-6M","v":3,"t":27.3,"b":27.6},{"p":"B","s":"RF-6M","v":4,"t":26.2,"b":27.1},{"p":"B","s":"RF-6M","v":5,"t":24.5,"b":27.0},
  {"p":"B","s":"RF","v":1,"t":1.3,"b":1.7},
  {"p":"B","s":"UF","v":1,"t":1.9,"b":4.2},{"p":"B","s":"UF","v":1,"t":30.9,"b":55.2},{"p":"B","s":"UF","v":2,"t":29.7,"b":55.2},{"p":"B","s":"UF","v":3,"t":29.1,"b":55.2},{"p":"B","s":"UF","v":4,"t":27.5,"b":55.2},{"p":"B","s":"UF","v":5,"t":30.9,"b":37.2},
  {"p":"B","s":"RF","v":4,"t":42.9,"b":47.3},{"p":"B","s":"RF","v":3,"t":42.6,"b":43.0},{"p":"B","s":"RF-6M","v":3,"t":43.2,"b":44.0},{"p":"B","s":"RF","v":2,"t":50.8,"b":51.5},{"p":"B","s":"RF-6M","v":4,"t":36.2,"b":36.6},{"p":"B","s":"RF-6M","v":3,"t":37.9,"b":38.5},{"p":"B","s":"IRF","v":1,"t":50.3,"b":50.6}
 ],
 "res": [
  {"s":"RF","t":4.1,"v":-0.6},{"s":"RF","t":4.4,"v":1.2},{"s":"RF","t":4.8,"v":-1.5},{"s":"RF","t":5.1,"v":0.3},{"s":"RF","t":5.5,"v":2.1},{"s":"RF","t":5.8,"v":-0.9},{"s":"RF","t":6.2,"v":0.7},{"s":"RF","t":6.5,"v":-2.2},{"s":"RF","t":6.9,"v":1.6},{"s":"RF","t":7.2,"v":-0.2},{"s":"RF","t":7.6,"v":0.9},{"s":"RF","t":7.9,"v":-1.1},{"s":"RF","t":8.3,"v":2.4},{"s":"RF","t":8.6,"v":-0.5},{"s":"RF","t":9.0,"v":1.0},{"s":"RF","t":9.3,"v":-1.8},{"s":"RF","t":9.7,"v":0.4},{"s":"RF","t":10.0,"v":-0.8},{"s":"RF","t":10.4,"v":1.9},{"s":"RF","t":10.7,"v":-2.6},{"s":"RF","t":11.1,"v":0.6},{"s":"RF","t":11.4,"v":-0.3},{"s":"RF","t":11.8,"v":1.4},{"s":"RF","t":12.1,"v":-1.3},{"s":"RF","t":12.5,"v":2.8},{"s":"RF","t":12.8,"v":0.1},{"s":"RF","t":13.2,"v":-0.7},{"s":"RF","t":13.5,"v":1.1},{"s":"RF","t":13.9,"v":-1.9},{"s":"RF","t":14.2,"v":0.8},{"s":"RF","t":14.6,"v":-0.4},{"s":"RF","t":14.9,"v":2.2},{"s":"RF","t":15.3,"v":-1.2},{"s":"RF","t":15.6,"v":0.5},{"s":"RF","t":16.0,"v":-2.4},{"s":"RF","t":16.3,"v":1.3},{"s":"RF","t":16.7,"v":-0.1},{"s":"RF","t":17.0,"v":0.9},{"s":"RF","t":17.4,"v":-1.6},{"s":"RF","t":17.7,"v":2.0},{"s":"RF","t":18.1,"v":-0.6},{"s":"RF","t":18.4,"v":1.5},{"s":"RF","t":18.8,"v":-2.9},{"s":"RF","t":19.1,"v":0.2},{"s":"RF","t":19.5,"v":-1.0},{"s":"RF","t":19.8,"v":1.8},{"s":"RF","t":20.2,"v":-0.3},{"s":"RF","t":20.5,"v":0.7},{"s":"RF","t":20.9,"v":-1.7},{"s":"RF","t":21.2,"v":2.5},{"s":"RF","t":21.6,"v":-0.9},{"s":"RF","t":21.9,"v":0.4},{"s":"RF","t":22.3,"v":1.2},{"s":"RF","t":22.6,"v":-2.0},{"s":"RF","t":23.0,"v":0.6},{"s":"RF","t":23.3,"v":-0.5},{"s":"RF","t":23.7,"v":1.7},{"s":"RF","t":24.0,"v":-1.4},{"s":"RF","t":24.4,"v":0.3},{"s":"RF","t":24.7,"v":2.3},{"s":"RF","t":25.1,"v":-0.8},{"s":"RF","t":25.4,"v":-2.7},{"s":"RF","t":25.8,"v":1.0},{"s":"RF","t":26.1,"v":-0.2},{"s":"RF","t":26.5,"v":1.6},{"s":"RF","t":26.8,"v":-1.1},{"s":"RF","t":27.2,"v":0.5},{"s":"RF","t":27.5,"v":-1.9},{"s":"RF","t":27.9,"v":2.1},{"s":"RF","t":28.2,"v":-0.4},{"s":"RF","t":28.6,"v":0.8},{"s":"RF","t":28.9,"v":-2.3},{"s":"RF","t":29.3,"v":1.4},{"s":"RF","t":29.6,"v":-0.6},{"s":"RF","t":30.0,"v":0.2},{"s":"RF","t":30.3,"v":-1.5},{"s":"RF","t":30.7,"v":1.9},{"s":"RF","t":31.0,"v":-0.9},{"s":"RF","t":31.4,"v":0.6},{"s":"RF","t":31.7,"v":-2.8},{"s":"RF","t":32.1,"v":1.1},{"s":"RF","t":32.4,"v":-0.3},{"s":"RF","t":32.8,"v":1.7},{"s":"RF","t":33.1,"v":-1.2},{"s":"RF","t":33.5,"v":0.4},{"s":"RF","t":33.8,"v":-2.1},{"s":"RF","t":34.2,"v":1.3},{"s":"RF","t":34.4,"v":-0.7},{"s":"RF","t":34.7,"v":0.9},{"s":"RF","t":35.0,"v":-1.6},{"s":"RF","t":35.2,"v":2.0},{"s":"RF","t":35.5,"v":-0.2},{"s":"RF","t":35.8,"v":0.7},{"s":"RF","t":36.0,"v":-2.5},{"s":"RF","t":36.3,"v":1.5},{"s":"RF","t":36.6,"v":-0.8},{"s":"RF","t":36.8,"v":0.3},{"s":"RF","t":37.1,"v":-1.3},{"s":"RF","t":37.4,"v":2.2},{"s":"RF","t":37.6,"v":-0.5},{"s":"RF","t":37.9,"v":1.0},{"s":"RF","t":38.2,"v":-1.8},{"s":"RF","t":38.4,"v":0.6},{"s":"RF","t":38.7,"v":-0.1},{"s":"RF","t":39.0,"v":1.8},{"s":"RF","t":39.2,"v":-1.0},{"s":"RF","t":39.5,"v":2.6},{"s":"RF","t":39.8,"v":-2.2},{"s":"RF","t":40.0,"v":0.8},{"s":"RF","t":40.3,"v":-0.6},{"s":"RF","t":40.6,"v":1.3},{"s":"RF","t":40.8,"v":-1.4},{"s":"RF","t":41.1,"v":0.2},{"s":"RF","t":41.4,"v":1.6},{"s":"RF","t":41.6,"v":-1.9},{"s":"RF","t":41.9,"v":0.9},{"s":"RF","t":42.2,"v":-0.4},{"s":"RF","t":42.4,"v":1.9},{"s":"RF","t":42.7,"v":-1.2},{"s":"RF","t":43.0,"v":0.5},{"s":"RF","t":43.2,"v":-2.0},{"s":"RF","t":43.5,"v":1.2},{"s":"RF","t":43.8,"v":-0.7},{"s":"RF","t":44.0,"v":0.4},{"s":"RF","t":44.3,"v":-1.5},{"s":"RF","t":44.6,"v":1.7},{"s":"RF","t":44.8,"v":-0.3},{"s":"RF","t":45.1,"v":0.9},{"s":"RF","t":45.3,"v":-1.1},
  {"s":"RF","t":34.5,"v":1.6},{"s":"RF","t":35.3,"v":-1.1},{"s":"RF","t":36.1,"v":0.9},{"s":"RF","t":36.9,"v":-1.7},{"s":"RF","t":37.7,"v":1.4},{"s":"RF","t":38.5,"v":-0.9},{"s":"RF","t":39.3,"v":0.5},{"s":"RF","t":40.1,"v":-1.2},{"s":"RF","t":40.9,"v":1.1},{"s":"RF","t":41.7,"v":-0.5},{"s":"RF","t":42.5,"v":0.3},{"s":"RF","t":43.3,"v":1.4},{"s":"RF","t":44.1,"v":-0.9},{"s":"RF","t":44.9,"v":1.5},{"s":"RF","t":34.9,"v":-0.3},{"s":"RF","t":36.5,"v":-1.4},{"s":"RF","t":38.0,"v":0.2},{"s":"RF","t":39.6,"v":-0.4},{"s":"RF","t":41.2,"v":-0.9},{"s":"RF","t":42.9,"v":-0.2},
  {"s":"RF","t":4.28,"v":0.8},{"s":"RF","t":4.98,"v":-0.4},{"s":"RF","t":5.68,"v":1.0},{"s":"RF","t":6.38,"v":-1.2},{"s":"RF","t":7.08,"v":0.3},{"s":"RF","t":7.78,"v":-0.7},{"s":"RF","t":8.48,"v":1.3},{"s":"RF","t":9.18,"v":-0.2},{"s":"RF","t":9.88,"v":0.9},{"s":"RF","t":10.58,"v":-1.5},{"s":"RF","t":11.28,"v":1.7},{"s":"RF","t":11.98,"v":0.2},{"s":"RF","t":12.68,"v":-1.0},{"s":"RF","t":13.38,"v":0.6},{"s":"RF","t":14.08,"v":1.5},{"s":"RF","t":14.78,"v":-1.7},{"s":"RF","t":15.48,"v":0.1},{"s":"RF","t":16.18,"v":-0.6},{"s":"RF","t":16.88,"v":1.2},{"s":"RF","t":17.58,"v":-1.2},{"s":"RF","t":18.28,"v":0.4},{"s":"RF","t":18.98,"v":1.3},{"s":"RF","t":19.68,"v":-0.8},{"s":"RF","t":20.38,"v":-1.9},{"s":"RF","t":21.08,"v":0.9},{"s":"RF","t":21.78,"v":-0.3},{"s":"RF","t":22.48,"v":1.5},{"s":"RF","t":23.18,"v":-1.3},{"s":"RF","t":23.88,"v":0.7},{"s":"RF","t":24.58,"v":-0.5},{"s":"RF","t":25.28,"v":1.2},{"s":"RF","t":25.98,"v":-1.6},{"s":"RF","t":26.68,"v":0.3},{"s":"RF","t":27.38,"v":1.1},{"s":"RF","t":28.08,"v":-0.9},{"s":"RF","t":28.78,"v":0.5},{"s":"RF","t":29.48,"v":-1.4},{"s":"RF","t":30.18,"v":1.6},{"s":"RF","t":30.88,"v":-0.2},{"s":"RF","t":31.58,"v":0.8},{"s":"RF","t":32.28,"v":-1.1},{"s":"RF","t":32.98,"v":0.2},{"s":"RF","t":33.68,"v":1.4},
  {"s":"RF","t":34.3,"v":-1.2},{"s":"RF","t":34.6,"v":0.5},{"s":"RF","t":35.1,"v":1.1},{"s":"RF","t":35.4,"v":-0.6},{"s":"RF","t":35.7,"v":1.8},{"s":"RF","t":36.2,"v":-0.4},{"s":"RF","t":36.4,"v":0.6},{"s":"RF","t":36.7,"v":-1.9},{"s":"RF","t":37.0,"v":1.2},{"s":"RF","t":37.3,"v":-0.2},{"s":"RF","t":37.8,"v":0.4},{"s":"RF","t":38.1,"v":-1.1},{"s":"RF","t":38.3,"v":1.5},{"s":"RF","t":38.6,"v":-0.7},{"s":"RF","t":38.9,"v":0.9},{"s":"RF","t":39.1,"v":-1.5},{"s":"RF","t":39.4,"v":1.2},{"s":"RF","t":39.7,"v":-0.3},{"s":"RF","t":39.9,"v":1.9},{"s":"RF","t":40.2,"v":-0.8},{"s":"RF","t":40.5,"v":0.4},{"s":"RF","t":40.7,"v":-1.7},{"s":"RF","t":41.0,"v":1.4},{"s":"RF","t":41.3,"v":-0.2},{"s":"RF","t":41.5,"v":0.8},{"s":"RF","t":41.8,"v":-1.3},{"s":"RF","t":42.1,"v":1.6},{"s":"RF","t":42.3,"v":-0.6},{"s":"RF","t":42.6,"v":0.9},{"s":"RF","t":42.8,"v":-1.5},{"s":"RF","t":43.1,"v":1.1},{"s":"RF","t":43.4,"v":-0.4},{"s":"RF","t":43.6,"v":1.8},{"s":"RF","t":43.9,"v":-1.0},{"s":"RF","t":44.2,"v":0.6},{"s":"RF","t":44.4,"v":-1.8},{"s":"RF","t":44.7,"v":0.2},{"s":"RF","t":45.0,"v":-0.5},{"s":"RF","t":45.2,"v":1.3},{"s":"RF","t":35.9,"v":-1.0},{"s":"RF","t":37.2,"v":0.8},{"s":"RF","t":38.8,"v":-0.5},{"s":"RF","t":40.4,"v":1.6},{"s":"RF","t":42.0,"v":-0.8},{"s":"RF","t":43.7,"v":0.1},
  {"s":"RF-6M","t":4.2,"v":1.0},{"s":"RF-6M","t":4.7,"v":-1.8},{"s":"RF-6M","t":5.3,"v":0.4},{"s":"RF-6M","t":5.9,"v":2.3},{"s":"RF-6M","t":6.4,"v":-0.9},{"s":"RF-6M","t":7.0,"v":1.2},{"s":"RF-6M","t":7.5,"v":-2.4},{"s":"RF-6M","t":8.1,"v":0.6},{"s":"RF-6M","t":8.6,"v":1.9},{"s":"RF-6M","t":9.2,"v":-1.2},{"s":"RF-6M","t":9.7,"v":0.2},{"s":"RF-6M","t":10.3,"v":2.7},{"s":"RF-6M","t":10.8,"v":-0.6},{"s":"RF-6M","t":11.4,"v":-2.0},{"s":"RF-6M","t":11.9,"v":1.4},{"s":"RF-6M","t":12.5,"v":-0.3},{"s":"RF-6M","t":13.0,"v":0.9},{"s":"RF-6M","t":13.6,"v":-1.6},{"s":"RF-6M","t":14.1,"v":2.1},{"s":"RF-6M","t":14.7,"v":-0.8},{"s":"RF-6M","t":15.2,"v":0.5},{"s":"RF-6M","t":15.8,"v":-2.8},{"s":"RF-6M","t":16.3,"v":1.7},{"s":"RF-6M","t":16.9,"v":-0.2},{"s":"RF-6M","t":17.4,"v":1.0},{"s":"RF-6M","t":18.0,"v":-1.4},{"s":"RF-6M","t":18.5,"v":2.4},{"s":"RF-6M","t":19.1,"v":-0.5},{"s":"RF-6M","t":19.6,"v":0.8},{"s":"RF-6M","t":20.2,"v":-2.2},{"s":"RF-6M","t":20.7,"v":1.3},{"s":"RF-6M","t":21.3,"v":-0.9},{"s":"RF-6M","t":21.8,"v":0.3},{"s":"RF-6M","t":22.4,"v":1.9},{"s":"RF-6M","t":22.9,"v":-1.7},{"s":"RF-6M","t":23.5,"v":0.6},{"s":"RF-6M","t":24.0,"v":-3.0},{"s":"RF-6M","t":24.6,"v":1.1},{"s":"RF-6M","t":25.1,"v":-0.4},{"s":"RF-6M","t":25.7,"v":2.2},{"s":"RF-6M","t":26.2,"v":-1.2},{"s":"RF-6M","t":26.8,"v":0.7},{"s":"RF-6M","t":27.3,"v":-2.5},{"s":"RF-6M","t":27.9,"v":1.6},{"s":"RF-6M","t":28.4,"v":-0.6},{"s":"RF-6M","t":29.0,"v":0.4},{"s":"RF-6M","t":29.5,"v":2.0},{"s":"RF-6M","t":30.1,"v":-1.5},{"s":"RF-6M","t":30.6,"v":0.9},{"s":"RF-6M","t":31.2,"v":-2.1},{"s":"RF-6M","t":31.7,"v":1.3},
  {"s":"RF-6M","t":4.45,"v":0.3},{"s":"RF-6M","t":4.95,"v":-0.7},{"s":"RF-6M","t":5.6,"v":1.4},{"s":"RF-6M","t":6.15,"v":-1.3},{"s":"RF-6M","t":6.7,"v":0.8},{"s":"RF-6M","t":7.25,"v":-0.4},{"s":"RF-6M","t":7.8,"v":1.6},{"s":"RF-6M","t":8.35,"v":-1.0},{"s":"RF-6M","t":8.9,"v":0.1},{"s":"RF-6M","t":9.45,"v":-2.0},{"s":"RF-6M","t":10.0,"v":1.1},{"s":"RF-6M","t":10.55,"v":0.4},{"s":"RF-6M","t":11.1,"v":-1.1},{"s":"RF-6M","t":11.65,"v":1.8},{"s":"RF-6M","t":12.2,"v":-0.6},{"s":"RF-6M","t":12.75,"v":-1.9},{"s":"RF-6M","t":13.3,"v":0.7},{"s":"RF-6M","t":13.85,"v":1.2},{"s":"RF-6M","t":14.4,"v":-0.4},{"s":"RF-6M","t":14.95,"v":-1.3},{"s":"RF-6M","t":15.5,"v":1.5},{"s":"RF-6M","t":16.05,"v":0.2},{"s":"RF-6M","t":16.6,"v":-1.0},{"s":"RF-6M","t":17.15,"v":2.0},{"s":"RF-6M","t":17.7,"v":-0.7},{"s":"RF-6M","t":18.25,"v":0.4},{"s":"RF-6M","t":18.8,"v":-1.8},{"s":"RF-6M","t":19.35,"v":1.1},{"s":"RF-6M","t":19.9,"v":-0.3},{"s":"RF-6M","t":20.45,"v":0.6},{"s":"RF-6M","t":21.0,"v":-1.4},{"s":"RF-6M","t":21.55,"v":2.1},{"s":"RF-6M","t":22.1,"v":-0.2},{"s":"RF-6M","t":22.65,"v":0.9},{"s":"RF-6M","t":23.2,"v":-1.1},{"s":"RF-6M","t":23.75,"v":1.4},{"s":"RF-6M","t":24.3,"v":-0.8},{"s":"RF-6M","t":24.85,"v":0.3},{"s":"RF-6M","t":25.4,"v":-1.9},{"s":"RF-6M","t":25.95,"v":1.0},{"s":"RF-6M","t":26.5,"v":-0.5},{"s":"RF-6M","t":27.05,"v":1.7},{"s":"RF-6M","t":27.6,"v":-1.0},{"s":"RF-6M","t":28.15,"v":0.2},{"s":"RF-6M","t":28.7,"v":-1.6},{"s":"RF-6M","t":29.25,"v":1.2},{"s":"RF-6M","t":29.8,"v":-0.3},{"s":"RF-6M","t":30.35,"v":1.5},{"s":"RF-6M","t":30.9,"v":-0.9},{"s":"RF-6M","t":31.45,"v":0.5},
  {"s":"UF","t":4.0,"v":0.5},{"s":"UF","t":4.3,"v":-1.2},{"s":"UF","t":4.6,"v":1.8},{"s":"UF","t":4.9,"v":-0.4},{"s":"UF","t":5.2,"v":0.9},{"s":"UF","t":5.5,"v":-2.0},{"s":"UF","t":5.8,"v":1.3},{"s":"UF","t":6.1,"v":0.1},{"s":"UF","t":6.4,"v":-0.8},{"s":"UF","t":6.7,"v":2.6},{"s":"UF","t":7.0,"v":-1.5},{"s":"UF","t":7.3,"v":0.6},{"s":"UF","t":7.6,"v":-0.2},{"s":"UF","t":7.9,"v":1.5},{"s":"UF","t":8.2,"v":-1.9},{"s":"UF","t":8.5,"v":0.8},{"s":"UF","t":8.8,"v":-0.6},{"s":"UF","t":9.1,"v":2.0},{"s":"UF","t":9.4,"v":-1.1},{"s":"UF","t":9.7,"v":0.3},{"s":"UF","t":10.0,"v":1.1},{"s":"UF","t":10.3,"v":-2.3},{"s":"UF","t":10.6,"v":0.7},{"s":"UF","t":10.9,"v":-0.3},{"s":"UF","t":11.2,"v":2.4},{"s":"UF","t":11.5,"v":-0.9},{"s":"UF","t":11.8,"v":1.0},{"s":"UF","t":12.1,"v":-1.6},{"s":"UF","t":12.4,"v":0.4},{"s":"UF","t":12.7,"v":1.7},{"s":"UF","t":13.0,"v":-0.5},{"s":"UF","t":13.3,"v":-2.1},{"s":"UF","t":13.6,"v":1.2},{"s":"UF","t":13.9,"v":0.2},{"s":"UF","t":14.2,"v":-1.3},{"s":"UF","t":14.5,"v":2.2},{"s":"UF","t":14.8,"v":-3.0},{"s":"UF","t":15.1,"v":0.9},{"s":"UF","t":15.4,"v":-0.7},{"s":"UF","t":15.7,"v":1.6},{"s":"UF","t":16.0,"v":-1.0},{"s":"UF","t":16.3,"v":0.5},{"s":"UF","t":16.6,"v":-2.2},{"s":"UF","t":16.9,"v":1.4},{"s":"UF","t":17.2,"v":-0.1},{"s":"UF","t":17.5,"v":2.1},{"s":"UF","t":17.8,"v":-1.4},{"s":"UF","t":18.1,"v":0.6},{"s":"UF","t":18.4,"v":-0.4},{"s":"UF","t":18.7,"v":1.9},{"s":"UF","t":19.0,"v":-2.5},{"s":"UF","t":19.3,"v":0.8},{"s":"UF","t":19.6,"v":-0.8},{"s":"UF","t":19.9,"v":1.3},{"s":"UF","t":20.2,"v":-1.7},{"s":"UF","t":20.5,"v":0.1},{"s":"UF","t":20.8,"v":2.3},{"s":"UF","t":21.1,"v":-0.6},{"s":"UF","t":21.4,"v":1.0},{"s":"UF","t":21.7,"v":-2.0},{"s":"UF","t":22.0,"v":0.5},{"s":"UF","t":22.3,"v":-1.1},{"s":"UF","t":22.6,"v":1.8},{"s":"UF","t":22.9,"v":-0.3},{"s":"UF","t":23.2,"v":0.9},{"s":"UF","t":23.5,"v":-2.7},{"s":"UF","t":23.8,"v":1.5},{"s":"UF","t":24.1,"v":-0.5},{"s":"UF","t":24.4,"v":0.2},{"s":"UF","t":24.7,"v":2.5},{"s":"UF","t":25.0,"v":-1.5},{"s":"UF","t":25.3,"v":0.7},{"s":"UF","t":25.6,"v":-0.9},{"s":"UF","t":25.9,"v":1.2},{"s":"UF","t":26.2,"v":-1.8},{"s":"UF","t":26.5,"v":0.4},{"s":"UF","t":26.8,"v":2.0},{"s":"UF","t":27.1,"v":-0.7},{"s":"UF","t":27.4,"v":1.1},{"s":"UF","t":27.7,"v":-2.4},{"s":"UF","t":28.0,"v":0.6},{"s":"UF","t":28.3,"v":-0.2},{"s":"UF","t":28.6,"v":1.6},{"s":"UF","t":28.9,"v":-1.2},{"s":"UF","t":29.2,"v":2.2},{"s":"UF","t":29.5,"v":-0.4},{"s":"UF","t":29.8,"v":0.9},{"s":"UF","t":30.1,"v":-3.1},{"s":"UF","t":30.4,"v":1.4},{"s":"UF","t":30.7,"v":-0.8},{"s":"UF","t":31.0,"v":2.7},{"s":"UF","t":31.3,"v":-1.6},{"s":"UF","t":31.6,"v":0.3},{"s":"UF","t":31.9,"v":1.0},{"s":"UF","t":32.2,"v":-2.0},{"s":"UF","t":32.5,"v":0.7},{"s":"UF","t":32.8,"v":-0.6},{"s":"UF","t":33.1,"v":1.5},{"s":"UF","t":33.4,"v":-1.3},{"s":"UF","t":33.7,"v":0.4},{"s":"UF","t":34.0,"v":-0.9},
  {"s":"UF","t":4.15,"v":-0.3},{"s":"UF","t":4.45,"v":0.9},{"s":"UF","t":4.75,"v":-1.0},{"s":"UF","t":5.05,"v":1.6},{"s":"UF","t":5.35,"v":-0.5},{"s":"UF","t":5.65,"v":0.4},{"s":"UF","t":5.95,"v":-1.4},{"s":"UF","t":6.25,"v":1.1},{"s":"UF","t":6.55,"v":-0.2},{"s":"UF","t":6.85,"v":0.7},{"s":"UF","t":7.15,"v":-2.1},{"s":"UF","t":7.45,"v":1.9},{"s":"UF","t":7.75,"v":0.2},{"s":"UF","t":8.05,"v":-0.7},{"s":"UF","t":8.35,"v":1.2},{"s":"UF","t":8.65,"v":-1.3},{"s":"UF","t":8.95,"v":0.5},{"s":"UF","t":9.25,"v":-0.1},{"s":"UF","t":9.55,"v":1.4},{"s":"UF","t":9.85,"v":-1.8},{"s":"UF","t":10.15,"v":0.6},{"s":"UF","t":10.45,"v":-0.4},{"s":"UF","t":10.75,"v":1.7},{"s":"UF","t":11.05,"v":-1.2},{"s":"UF","t":11.35,"v":0.2},{"s":"UF","t":11.65,"v":-2.6},{"s":"UF","t":11.95,"v":0.9},{"s":"UF","t":12.25,"v":1.9},{"s":"UF","t":12.55,"v":-0.8},{"s":"UF","t":12.85,"v":0.3},{"s":"UF","t":13.15,"v":1.3},{"s":"UF","t":13.45,"v":-1.0},{"s":"UF","t":13.75,"v":-0.2},{"s":"UF","t":14.05,"v":0.7},{"s":"UF","t":14.35,"v":-1.7},{"s":"UF","t":14.65,"v":1.1},{"s":"UF","t":14.95,"v":0.4},{"s":"UF","t":15.25,"v":-1.4},{"s":"UF","t":15.55,"v":2.3},{"s":"UF","t":15.85,"v":-0.3},{"s":"UF","t":16.15,"v":0.8},{"s":"UF","t":16.45,"v":-1.1},{"s":"UF","t":16.75,"v":0.1},{"s":"UF","t":17.05,"v":-1.9},{"s":"UF","t":17.35,"v":1.5},{"s":"UF","t":17.65,"v":0.6},{"s":"UF","t":17.95,"v":-0.9},{"s":"UF","t":18.25,"v":1.2},{"s":"UF","t":18.55,"v":-1.5},{"s":"UF","t":18.85,"v":0.3},{"s":"UF","t":19.15,"v":-0.6},{"s":"UF","t":19.45,"v":1.6},{"s":"UF","t":19.75,"v":0.9},{"s":"UF","t":20.05,"v":-1.2},{"s":"UF","t":20.35,"v":-0.3},{"s":"UF","t":20.65,"v":1.2},{"s":"UF","t":20.95,"v":-2.3},{"s":"UF","t":21.25,"v":0.4},{"s":"UF","t":21.55,"v":-0.7},{"s":"UF","t":21.85,"v":1.5},{"s":"UF","t":22.15,"v":-1.4},{"s":"UF","t":22.45,"v":0.2},{"s":"UF","t":22.75,"v":-0.5},{"s":"UF","t":23.05,"v":1.3},{"s":"UF","t":23.35,"v":-1.0},{"s":"UF","t":23.65,"v":0.6},{"s":"UF","t":23.95,"v":2.0},{"s":"UF","t":24.25,"v":-1.6},{"s":"UF","t":24.55,"v":0.9},{"s":"UF","t":24.85,"v":-0.3},{"s":"UF","t":25.15,"v":1.4},{"s":"UF","t":25.45,"v":-2.1},{"s":"UF","t":25.75,"v":0.5},{"s":"UF","t":26.05,"v":-0.8},{"s":"UF","t":26.35,"v":1.7},{"s":"UF","t":26.65,"v":-1.3},{"s":"UF","t":26.95,"v":0.2},{"s":"UF","t":27.25,"v":-0.4},{"s":"UF","t":27.55,"v":1.3},{"s":"UF","t":27.85,"v":-1.0},{"s":"UF","t":28.15,"v":0.8},{"s":"UF","t":28.45,"v":-1.9},{"s":"UF","t":28.75,"v":0.3},{"s":"UF","t":29.05,"v":1.1},{"s":"UF","t":29.35,"v":-0.9},{"s":"UF","t":29.65,"v":1.8},{"s":"UF","t":29.95,"v":-0.5},{"s":"UF","t":30.25,"v":0.6},{"s":"UF","t":30.55,"v":-1.8},{"s":"UF","t":30.85,"v":0.4},{"s":"UF","t":31.15,"v":1.2},{"s":"UF","t":31.45,"v":-0.6},{"s":"UF","t":31.75,"v":-2.4},{"s":"UF","t":32.05,"v":1.6},{"s":"UF","t":32.35,"v":0.2},{"s":"UF","t":32.65,"v":-1.1},{"s":"UF","t":32.95,"v":0.9},{"s":"UF","t":33.25,"v":-0.3},{"s":"UF","t":33.55,"v":1.1},{"s":"UF","t":33.85,"v":-1.5}
 ],
 "zero": [{"s":"UF","t":0,"b":4.0,"v":0},{"s":"UF","t":33.8,"b":58.5,"v":0}],
 "legT": [{"l":"IRF","s":"IRF","t":47.1,"v":10160},{"l":"RF","s":"RF","t":47.1,"v":9034},{"l":"RF-6M","s":"RF-6M","t":47.1,"v":7875},{"l":"UF","s":"UF","t":47.1,"v":6717}],
 "legM": [{"l":"IRF","s":"IRF","t":47.1,"v":7253},{"l":"RF","s":"RF","t":47.1,"v":2573},{"l":"RF-6M","s":"RF-6M","t":47.1,"v":915},{"l":"UF","s":"UF","t":47.1,"v":337}]
},
"columns": 2,
"spacing": {"row": 14, "column": 26},
"bounds": "flush",
"concat": [
 {
  "width": 317, "height": 265,
  "title": {"text": "A", "anchor": "start", "frame": "group", "dx": -81, "fontSize": 26, "fontWeight": "normal", "offset": 9, "color": "#222222"},
  "encoding": {
   "x": {"field": "t", "type": "quantitative", "scale": {"domain": [0, 60], "nice": false, "zero": false}, "axis": {"values": [0, 20, 40, 60], "labels": false, "title": null}},
   "y": {"field": "v", "type": "quantitative", "scale": {"domain": [-500, 11000], "nice": false, "zero": false}, "axis": {"values": [0, 5000, 10000], "format": "d", "title": "Counts"}}
  },
  "layer": [
   {"data": {"name": "top"}, "mark": {"type": "line", "strokeWidth": 3.7, "clip": true}, "encoding": {"color": {"field": "s", "type": "nominal", "scale": {"domain": ["IRF", "RF", "RF-6M", "UF"], "range": ["#000000", "#e2342d", "#f2ec3b", "#4db848"]}, "legend": null}}},
   {"data": {"name": "legT"}, "mark": {"type": "text", "align": "left", "baseline": "middle", "fontSize": 20}, "encoding": {"text": {"field": "l"}, "color": {"field": "s", "type": "nominal", "scale": {"domain": ["IRF", "RF", "RF-6M", "UF"], "range": ["#000000", "#e2342d", "#f2ec3b", "#4db848"]}, "legend": null}}},
   {"data": {"values": [{"l": "OmpX", "t": 15.0, "v": 9581}]}, "mark": {"type": "text", "align": "left", "baseline": "middle", "fontSize": 19.5}, "encoding": {"text": {"field": "l"}}},
   {"data": {"values": [{"l": "HN", "t": 25.5, "v": 9915}]}, "mark": {"type": "text", "align": "left", "baseline": "middle", "fontSize": 13.5}, "encoding": {"text": {"field": "l"}}}
  ]
 },
 {
  "width": 317, "height": 265,
  "title": {"text": "B", "anchor": "start", "frame": "group", "dx": -9, "fontSize": 26, "fontWeight": "normal", "offset": 9, "color": "#222222"},
  "encoding": {
   "x": {"field": "t", "type": "quantitative", "scale": {"domain": [0, 60], "nice": false, "zero": false}, "axis": {"values": [0, 20, 40, 60], "labels": false, "title": null}},
   "y": {"field": "v", "type": "quantitative", "scale": {"domain": [-500, 11000], "nice": false, "zero": false}, "axis": {"values": [0, 5000, 10000], "labels": false, "title": null}}
  },
  "layer": [
   {"data": {"name": "top"}, "mark": {"type": "line", "strokeWidth": 3.7, "clip": true}, "encoding": {"color": {"field": "s", "type": "nominal", "scale": {"domain": ["IRF", "RF", "RF-6M", "UF"], "range": ["#000000", "#e2342d", "#f2ec3b", "#4db848"]}, "legend": null}}},
   {"data": {"name": "legT"}, "mark": {"type": "text", "align": "left", "baseline": "middle", "fontSize": 20}, "encoding": {"text": {"field": "l"}, "color": {"field": "s", "type": "nominal", "scale": {"domain": ["IRF", "RF", "RF-6M", "UF"], "range": ["#000000", "#e2342d", "#f2ec3b", "#4db848"]}, "legend": null}}},
   {"data": {"values": [{"l": "OmpX", "t": 16.5, "v": 9581}]}, "mark": {"type": "text", "align": "left", "baseline": "middle", "fontSize": 19.5}, "encoding": {"text": {"field": "l"}}},
   {"data": {"values": [{"l": "M", "t": 26.8, "v": 9915}]}, "mark": {"type": "text", "align": "left", "baseline": "middle", "fontSize": 14}, "encoding": {"text": {"field": "l"}}}
  ]
 },
 {
  "width": 317, "height": 265,
  "encoding": {
   "x": {"field": "t", "type": "quantitative", "scale": {"domain": [0, 60], "nice": false, "zero": false}, "axis": {"values": [0, 20, 40, 60], "labels": false, "title": null}},
   "y": {"field": "v", "type": "quantitative", "scale": {"type": "log", "domain": [0.5, 15000], "nice": false}, "axis": {"values": [1, 10, 100, 1000, 10000], "format": "d", "title": "Counts"}}
  },
  "layer": [
   {"data": {"name": "band"}, "transform": [{"filter": "datum.p == 'A'"}], "mark": {"type": "line", "strokeWidth": 7, "strokeCap": "round", "strokeJoin": "round", "clip": true, "color": "#000000"}, "encoding": {}},
   {"data": {"name": "rib"}, "transform": [{"filter": "datum.p == 'A'"}], "mark": {"type": "area", "clip": true, "opacity": 1}, "encoding": {"y": {"field": "v", "type": "quantitative", "stack": null, "scale": {"type": "log", "domain": [0.5, 15000], "nice": false}, "axis": {"values": [1, 10, 100, 1000, 10000], "format": "d", "title": "Counts"}}, "y2": {"field": "hi"}, "color": {"field": "s", "type": "nominal", "scale": {"domain": ["IRF", "RF", "RF-6M", "UF"], "range": ["#000000", "#e2342d", "#f2ec3b", "#4db848"]}, "legend": null}}},
   {"data": {"name": "rows"}, "transform": [{"filter": "datum.p == 'A'"}], "mark": {"type": "rule", "strokeWidth": 5.5, "strokeCap": "round", "clip": true}, "encoding": {"x2": {"field": "b"}, "color": {"field": "s", "type": "nominal", "scale": {"domain": ["IRF", "RF", "RF-6M", "UF"], "range": ["#000000", "#e2342d", "#f2ec3b", "#4db848"]}, "legend": null}}},
   {"data": {"name": "pts"}, "transform": [{"filter": "datum.p == 'A'"}], "mark": {"type": "circle", "size": 24, "opacity": 1, "clip": true}, "encoding": {"color": {"field": "s", "type": "nominal", "scale": {"domain": ["IRF", "RF", "RF-6M", "UF"], "range": ["#000000", "#e2342d", "#f2ec3b", "#4db848"]}, "legend": null}}},
   {"data": {"name": "fit"}, "transform": [{"filter": "datum.p == 'A'"}], "mark": {"type": "line", "strokeWidth": 1, "color": "#000000", "clip": true}, "encoding": {"detail": {"field": "s"}}},
   {"data": {"name": "legM"}, "mark": {"type": "text", "align": "left", "baseline": "middle", "fontSize": 20}, "encoding": {"text": {"field": "l"}, "color": {"field": "s", "type": "nominal", "scale": {"domain": ["IRF", "RF", "RF-6M", "UF"], "range": ["#000000", "#e2342d", "#f2ec3b", "#4db848"]}, "legend": null}}},
   {"data": {"values": [{"l": "OmpX", "t": 15.0, "v": 4786}]}, "mark": {"type": "text", "align": "left", "baseline": "middle", "fontSize": 19.5}, "encoding": {"text": {"field": "l"}}},
   {"data": {"values": [{"l": "HN", "t": 25.6, "v": 6457}]}, "mark": {"type": "text", "align": "left", "baseline": "middle", "fontSize": 13.5}, "encoding": {"text": {"field": "l"}}}
  ]
 },
 {
  "width": 317, "height": 265,
  "encoding": {
   "x": {"field": "t", "type": "quantitative", "scale": {"domain": [0, 60], "nice": false, "zero": false}, "axis": {"values": [0, 20, 40, 60], "labels": false, "title": null}},
   "y": {"field": "v", "type": "quantitative", "scale": {"type": "log", "domain": [0.5, 15000], "nice": false}, "axis": {"values": [1, 10, 100, 1000, 10000], "labels": false, "title": null}}
  },
  "layer": [
   {"data": {"name": "band"}, "transform": [{"filter": "datum.p == 'B'"}], "mark": {"type": "line", "strokeWidth": 7, "strokeCap": "round", "strokeJoin": "round", "clip": true, "color": "#000000"}, "encoding": {}},
   {"data": {"name": "rib"}, "transform": [{"filter": "datum.p == 'B'"}], "mark": {"type": "area", "clip": true, "opacity": 1}, "encoding": {"y": {"field": "v", "type": "quantitative", "stack": null, "scale": {"type": "log", "domain": [0.5, 15000], "nice": false}, "axis": {"values": [1, 10, 100, 1000, 10000], "labels": false, "title": null}}, "y2": {"field": "hi"}, "color": {"field": "s", "type": "nominal", "scale": {"domain": ["IRF", "RF", "RF-6M", "UF"], "range": ["#000000", "#e2342d", "#f2ec3b", "#4db848"]}, "legend": null}}},
   {"data": {"name": "rows"}, "transform": [{"filter": "datum.p == 'B'"}], "mark": {"type": "rule", "strokeWidth": 5.5, "strokeCap": "round", "clip": true}, "encoding": {"x2": {"field": "b"}, "color": {"field": "s", "type": "nominal", "scale": {"domain": ["IRF", "RF", "RF-6M", "UF"], "range": ["#000000", "#e2342d", "#f2ec3b", "#4db848"]}, "legend": null}}},
   {"data": {"name": "pts"}, "transform": [{"filter": "datum.p == 'B'"}], "mark": {"type": "circle", "size": 24, "opacity": 1, "clip": true}, "encoding": {"color": {"field": "s", "type": "nominal", "scale": {"domain": ["IRF", "RF", "RF-6M", "UF"], "range": ["#000000", "#e2342d", "#f2ec3b", "#4db848"]}, "legend": null}}},
   {"data": {"name": "fit"}, "transform": [{"filter": "datum.p == 'B'"}], "mark": {"type": "line", "strokeWidth": 1, "color": "#000000", "clip": true}, "encoding": {"detail": {"field": "s"}}},
   {"data": {"name": "legM"}, "mark": {"type": "text", "align": "left", "baseline": "middle", "fontSize": 20}, "encoding": {"text": {"field": "l"}, "color": {"field": "s", "type": "nominal", "scale": {"domain": ["IRF", "RF", "RF-6M", "UF"], "range": ["#000000", "#e2342d", "#f2ec3b", "#4db848"]}, "legend": null}}},
   {"data": {"values": [{"l": "OmpX", "t": 16.6, "v": 4786}]}, "mark": {"type": "text", "align": "left", "baseline": "middle", "fontSize": 19.5}, "encoding": {"text": {"field": "l"}}},
   {"data": {"values": [{"l": "M", "t": 27.0, "v": 6457}]}, "mark": {"type": "text", "align": "left", "baseline": "middle", "fontSize": 14}, "encoding": {"text": {"field": "l"}}}
  ]
 },
 {
  "width": 317, "height": 63,
  "encoding": {
   "x": {"field": "t", "type": "quantitative", "scale": {"domain": [0, 60], "nice": false, "zero": false}, "axis": {"values": [0, 20, 40, 60], "title": "Decay (ns)", "titleFontSize": 21, "labelFlush": false, "labelPadding": 4, "titlePadding": 12}},
   "y": {"field": "v", "type": "quantitative", "scale": {"domain": [-4, 4], "nice": false, "zero": false}, "axis": {"values": [-4, 0, 4], "title": "Residuals"}}
  },
  "layer": [
   {"data": {"name": "res"}, "mark": {"type": "point", "filled": false, "size": 22, "strokeWidth": 0.8, "opacity": 1, "clip": true}, "encoding": {"color": {"field": "s", "type": "nominal", "scale": {"domain": ["IRF", "RF", "RF-6M", "UF"], "range": ["#000000", "#e2342d", "#f2ec3b", "#4db848"]}, "legend": null}}},
   {"data": {"name": "zero"}, "mark": {"type": "rule", "strokeWidth": 4.5, "strokeCap": "round"}, "encoding": {"x2": {"field": "b"}, "color": {"field": "s", "type": "nominal", "scale": {"domain": ["IRF", "RF", "RF-6M", "UF"], "range": ["#000000", "#e2342d", "#f2ec3b", "#4db848"]}, "legend": null}}}
  ]
 },
 {
  "width": 317, "height": 63,
  "encoding": {
   "x": {"field": "t", "type": "quantitative", "scale": {"domain": [0, 60], "nice": false, "zero": false}, "axis": {"values": [0, 20, 40, 60], "title": "Decay (ns)", "titleFontSize": 21, "labelFlush": false, "labelPadding": 4, "titlePadding": 12}},
   "y": {"field": "v", "type": "quantitative", "scale": {"domain": [-4, 4], "nice": false, "zero": false}, "axis": {"values": [-4, 0, 4], "labels": false, "title": null}}
  },
  "layer": [
   {"data": {"name": "res"}, "mark": {"type": "point", "filled": false, "size": 22, "strokeWidth": 0.8, "opacity": 1, "clip": true}, "encoding": {"color": {"field": "s", "type": "nominal", "scale": {"domain": ["IRF", "RF", "RF-6M", "UF"], "range": ["#000000", "#e2342d", "#f2ec3b", "#4db848"]}, "legend": null}}},
   {"data": {"name": "zero"}, "mark": {"type": "rule", "strokeWidth": 4.5, "strokeCap": "round"}, "encoding": {"x2": {"field": "b"}, "color": {"field": "s", "type": "nominal", "scale": {"domain": ["IRF", "RF", "RF-6M", "UF"], "range": ["#000000", "#e2342d", "#f2ec3b", "#4db848"]}, "legend": null}}}
  ]
 }
]
}
